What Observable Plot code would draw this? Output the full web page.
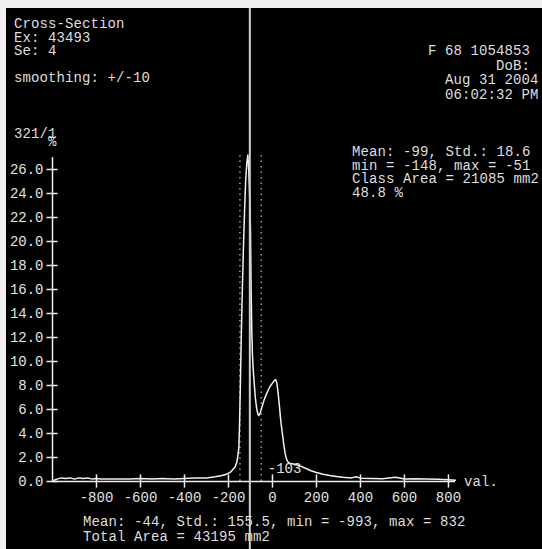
<!DOCTYPE html>
<html>
<head>
<meta charset="utf-8">
<script src="https://cdn.jsdelivr.net/npm/d3@7"></script>
<script src="https://cdn.jsdelivr.net/npm/@observablehq/plot@0.6"></script>
<style>
  html, body { margin: 0; padding: 0; background: #000; }
  #wrap { position: relative; width: 542px; height: 549px; background: #000; overflow: hidden;
          font-family: "Liberation Mono", "DejaVu Sans Mono", monospace; font-size: 14px; color: #dedede; }
  #wrap svg { position: absolute; left: 0; top: 0; }
  .t { position: absolute; white-space: pre; line-height: 13.5px; letter-spacing: 0.1px; }
  .bt { position: absolute; left: 0; top: 0; background: #efefef; }
</style>
</head>
<body>
<div id="wrap"></div>
<script>
// ---- data ----
const huValues = [-993, -980, -960, -940, -920, -900, -880, -860, -840, -820, -800, -780, -750, -700, -650, -600, -550, -500, -450, -400, -350, -300, -260, -230, -210, -200, -190, -180, -170, -162, -157, -153, -150, -146, -142, -137, -132, -127, -122, -117, -112, -108, -104, -100, -97, -94, -91, -87, -83, -78, -72, -66, -62, -56, -48, -38, -25, -12, 0, 8, 14, 20, 26, 32, 38, 45, 52, 58, 65, 72, 80, 95, 110, 125, 150, 175, 200, 230, 260, 290, 320, 360, 380, 400, 450, 500, 560, 600, 650, 700, 750, 800, 832];
const percents = [0.1, 0.2, 0.3, 0.25, 0.3, 0.2, 0.3, 0.25, 0.3, 0.2, 0.25, 0.2, 0.2, 0.2, 0.2, 0.25, 0.2, 0.25, 0.2, 0.25, 0.3, 0.3, 0.4, 0.5, 0.6, 0.7, 0.8, 1.0, 1.2, 1.6, 2.2, 2.8, 4.5, 8, 12, 16, 19.5, 22.5, 25, 26.5, 27.2, 26, 24, 21, 16, 12.5, 10.5, 9.2, 8.2, 7, 6.1, 5.6, 5.5, 5.7, 6.2, 6.8, 7.4, 7.9, 8.2, 8.4, 8.5, 8.2, 7.3, 6.2, 5.0, 4.0, 3.0, 2.3, 1.8, 1.6, 1.5, 1.45, 1.4, 1.3, 1.1, 0.9, 0.75, 0.6, 0.5, 0.42, 0.35, 0.3, 0.4, 0.28, 0.25, 0.22, 0.35, 0.2, 0.22, 0.2, 0.18, 0.15, 0.1];
const xTicks = [-800, -600, -400, -200, 0, 200, 400, 600, 800];
const yTicks = [0, 2, 4, 6, 8, 10, 12, 14, 16, 18, 20, 22, 24, 26];
const cursorValue = [-103];
const classBounds = [-148, -51];

const headerLeft = ["Cross-Section", "Ex: 43493", "Se: 4", "", "smoothing: +/-10"];
const headerRight = ["F 68 1054853", "DoB:", "Aug 31 2004", "06:02:32 PM"];
const classStats = ["Mean: -99, Std.: 18.6", "min = -148, max = -51", "Class Area = 21085 mm2", "48.8 %"];
const totalStats = ["Mean: -44, Std.: 155.5, min = -993, max = 832", "Total Area = 43195 mm2"];
const yUnitLabel = ["321/1", "%"];
const xUnitLabel = "val.";

const hist = huValues.map((v, i) => ({v, p: percents[i]}));
const fg = "#e2e2e2";

const plot = Plot.plot({
  width: 542,
  height: 549,
  marginLeft: 52, marginRight: 87, marginTop: 157, marginBottom: 68,
  style: {background: "transparent", color: fg, fontFamily: "Liberation Mono, DejaVu Sans Mono, monospace", fontSize: "14px"},
  x: {domain: [-1000, 832], range: [52, 455], axis: null},
  y: {domain: [0, 27], range: [481, 157], axis: null},
  marks: [
    // class boundary dotted lines
    Plot.ruleX(classBounds, {y1: 0, y2: 27.3, stroke: "#9a9a9a", strokeWidth: 1.5, strokeDasharray: "1.5,4"}),
    // axes
    Plot.ruleY([0], {x1: -1000, x2: 832, stroke: "#f0f0f0", strokeWidth: 1.5}),
    Plot.ruleX([-1000], {y1: 0, y2: 27, stroke: "#f0f0f0", strokeWidth: 1.5}),
    Plot.ruleX(xTicks, {y1: -0.55, y2: 0.55, stroke: "#f0f0f0", strokeWidth: 1.5}),
    Plot.ruleY(yTicks, {x1: -1025, x2: -975, stroke: "#f0f0f0", strokeWidth: 1.5}),
    Plot.text(xTicks, {x: d => d, y: 0, dy: 16, text: d => String(d), fill: fg, fontSize: 14}),
    Plot.text(yTicks, {x: -1000, y: d => d, dx: -9, textAnchor: "end", text: d => d.toFixed(1), fill: fg, fontSize: 14}),
    // histogram
    Plot.line(hist, {x: "v", y: "p", stroke: "#f2f2f2", strokeWidth: 1.5}),
    // cursor
    Plot.ruleX(cursorValue, {y1: -5.8, y2: 39.5, stroke: "#cfcfcf", strokeWidth: 2}),
    Plot.text(cursorValue, {x: d => d, y: 0, dx: 18, dy: -13, textAnchor: "start", text: d => String(d), fill: fg, fontSize: 14})
  ]
});

const wrap = document.getElementById("wrap");
wrap.appendChild(plot);

function addBlock(lines, left, top, extra) {
  const d = document.createElement("div");
  d.className = "t";
  d.style.left = left + "px";
  d.style.top = top + "px";
  if (extra) Object.assign(d.style, extra);
  d.textContent = lines.join("\n");
  wrap.appendChild(d);
}
addBlock(headerLeft, 14, 18);
// right header: one monospace block, lines indented by columns as in the picture
const rightIndent = [0, 8, 2, 2];
addBlock(headerRight.map((s, i) => " ".repeat(rightIndent[i]) + s), 428, 44, {lineHeight: "14.5px"});
addBlock([yUnitLabel[0], "    " + yUnitLabel[1]], 14, 130, {lineHeight: "8px"});
addBlock(classStats, 352, 146);
addBlock([xUnitLabel], 464, 476);
addBlock(totalStats, 83, 515, {lineHeight: "14.5px"});

// light border of the screenshot
const b1 = document.createElement("div"); b1.className = "bt"; b1.style.width = "542px"; b1.style.height = "8px"; wrap.appendChild(b1);
const b2 = document.createElement("div"); b2.className = "bt"; b2.style.width = "6px"; b2.style.height = "549px"; wrap.appendChild(b2);
</script>
</body>
</html>
